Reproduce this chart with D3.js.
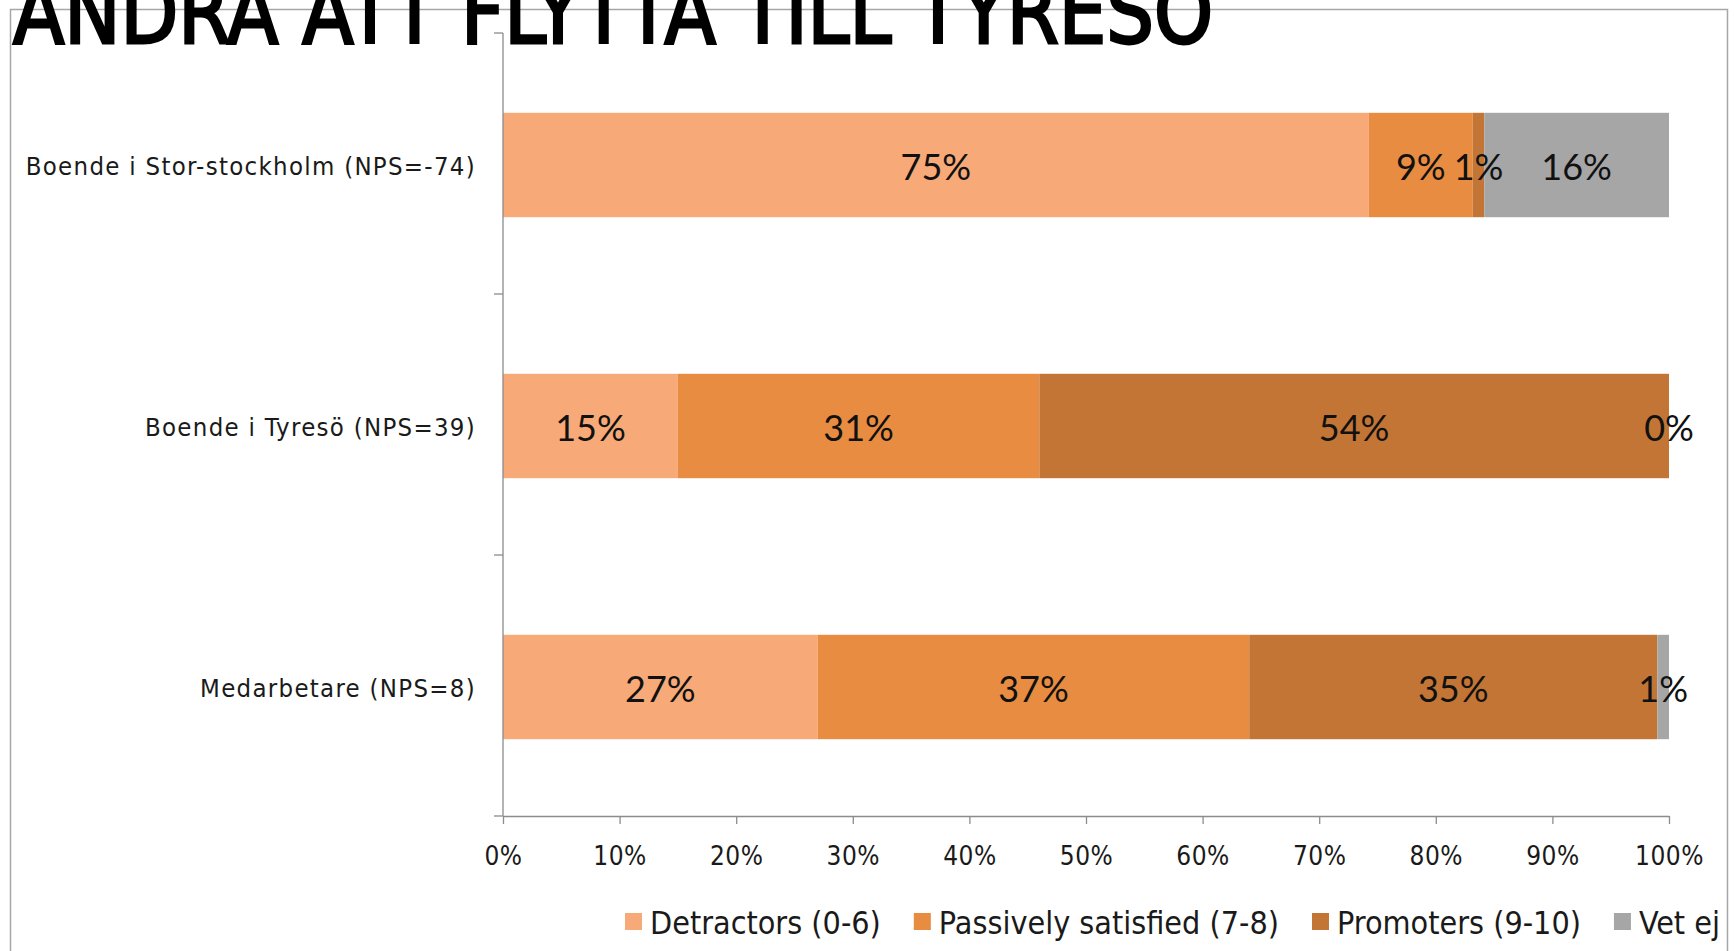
<!DOCTYPE html>
<html>
<head>
<meta charset="utf-8">
<script src="https://cdn.jsdelivr.net/npm/d3@7"></script>
<style>
  html, body { margin: 0; padding: 0; background: #fff; }
  svg { display: block; }
</style>
</head>
<body>
<svg id="chart" width="1734" height="951"></svg>
<script>
const title = "ANDRA ATT FLYTTA TILL TYRESÖ";
const categories = ["Boende i Stor-stockholm (NPS=-74)", "Boende i Tyresö (NPS=39)", "Medarbetare (NPS=8)"];
const seriesNames = ["Detractors (0-6)", "Passively satisfied (7-8)", "Promoters (9-10)", "Vet ej"];
const detractors = [75, 15, 27];
const passive = [9, 31, 37];
const promoters = [1, 54, 35];
const vetEj = [16, 0, 1];
const seriesColors = ["#F7AA78", "#E88C41", "#C37535", "#A6A6A6"];
const xTickValues = [0, 0.1, 0.2, 0.3, 0.4, 0.5, 0.6, 0.7, 0.8, 0.9, 1];

const seriesValues = [detractors, passive, promoters, vetEj];
const rows = categories.map((c, i) => {
  const r = { cat: c };
  seriesNames.forEach((s, j) => r[s] = seriesValues[j][i]);
  return r;
});

const svg = d3.select("#chart");
const plot = { left: 503, right: 1669, top: 33, bottom: 816 };

// Outer frame
svg.append("rect")
  .attr("x", 10.5).attr("y", 9.5)
  .attr("width", 1717).attr("height", 980)
  .attr("fill", "none").attr("stroke", "#A6A6A6").attr("stroke-width", 1.5);

// Title (top clipped by the page edge, as in the reference)
svg.append("text")
  .attr("x", 13).attr("y", 43)
  .attr("font-family", "'Liberation Sans Narrow', 'DejaVu Sans Condensed', sans-serif")
  .attr("font-size", 88)
  .attr("textLength", 1200)
  .attr("lengthAdjust", "spacingAndGlyphs")
  .attr("fill", "#000")
  .attr("stroke", "#000").attr("stroke-width", 2.8)
  .text(title);

const x = d3.scaleLinear().domain([0, 1]).range([plot.left, plot.right]);
const y = d3.scaleBand().domain(categories).range([plot.top, plot.bottom])
  .paddingInner(0.6).paddingOuter(0.3);

const stack = d3.stack().keys(seriesNames).offset(d3.stackOffsetExpand);
const stacked = stack(rows);

const layers = svg.append("g").selectAll("g")
  .data(stacked).join("g")
  .attr("fill", (d, i) => seriesColors[i]);

layers.selectAll("rect")
  .data(d => d.map(p => ({ p, key: d.key })))
  .join("rect")
  .attr("x", d => x(d.p[0]))
  .attr("y", d => y(d.p.data.cat) + 1.5)
  .attr("width", d => Math.max(0, x(d.p[1]) - x(d.p[0])))
  .attr("height", y.bandwidth());

// Value labels
const labelG = svg.append("g")
  .attr("font-family", "Lato, 'Open Sans', sans-serif")
  .attr("font-size", 36)
  .attr("fill", "#111")
  .attr("text-anchor", "middle");
stacked.forEach(layer => {
  layer.forEach(p => {
    labelG.append("text")
      .attr("x", (x(p[0]) + x(p[1])) / 2)
      .attr("y", y(p.data.cat) + y.bandwidth() / 2)
      .attr("dy", "0.45em")
      .text(p.data[layer.key] + "%");
  });
});

// X axis
const axisFont = "'DejaVu Sans Condensed', 'DejaVu Sans', sans-serif";
const xAxis = svg.append("g")
  .attr("transform", `translate(0,${plot.bottom})`)
  .call(d3.axisBottom(x).tickValues(xTickValues).tickFormat(d3.format(".0%"))
    .tickSize(8).tickSizeOuter(0).tickPadding(23));
xAxis.select(".domain").attr("stroke", "#8C8C8C").attr("stroke-width", 1.3);
xAxis.selectAll(".tick line").attr("stroke", "#8C8C8C").attr("stroke-width", 1.3);
xAxis.selectAll(".tick text")
  .attr("font-family", axisFont).attr("font-size", 26).attr("fill", "#1a1a1a")
  .attr("letter-spacing", 0.5);

// Y axis (labels)
const yAxis = svg.append("g")
  .attr("transform", `translate(${plot.left},0)`)
  .call(d3.axisLeft(y).tickSize(0).tickPadding(27));
yAxis.select(".domain").remove();
yAxis.selectAll(".tick text")
  .attr("font-family", axisFont).attr("font-size", 25.5).attr("fill", "#1a1a1a")
  .attr("letter-spacing", 1.3)
  .attr("dy", "0.45em");

// Y axis line and boundary ticks
const boundaries = [plot.top].concat(categories.map(c => y(c) + y.bandwidth() + y.step() * y.paddingInner() / 2));
boundaries[boundaries.length - 1] = plot.bottom;
svg.append("line")
  .attr("x1", plot.left).attr("x2", plot.left)
  .attr("y1", plot.top).attr("y2", plot.bottom)
  .attr("stroke", "#8C8C8C").attr("stroke-width", 1.3);
svg.append("g").selectAll("line")
  .data(boundaries).join("line")
  .attr("x1", plot.left - 9).attr("x2", plot.left)
  .attr("y1", d => d).attr("y2", d => d)
  .attr("stroke", "#8C8C8C").attr("stroke-width", 1.3);

// Legend
const legend = svg.append("g")
  .attr("font-family", axisFont).attr("font-size", 32).attr("fill", "#1a1a1a");
let lx = 625;
const ly = 922;
seriesNames.forEach((s, i) => {
  legend.append("rect")
    .attr("x", lx).attr("y", ly - 9).attr("width", 17).attr("height", 17)
    .attr("fill", seriesColors[i]);
  const t = legend.append("text")
    .attr("x", lx + 25).attr("y", ly).attr("dy", "0.36em")
    .text(s);
  const w = t.node().getComputedTextLength();
  lx += 25 + w + 33;
});
</script>
</body>
</html>
